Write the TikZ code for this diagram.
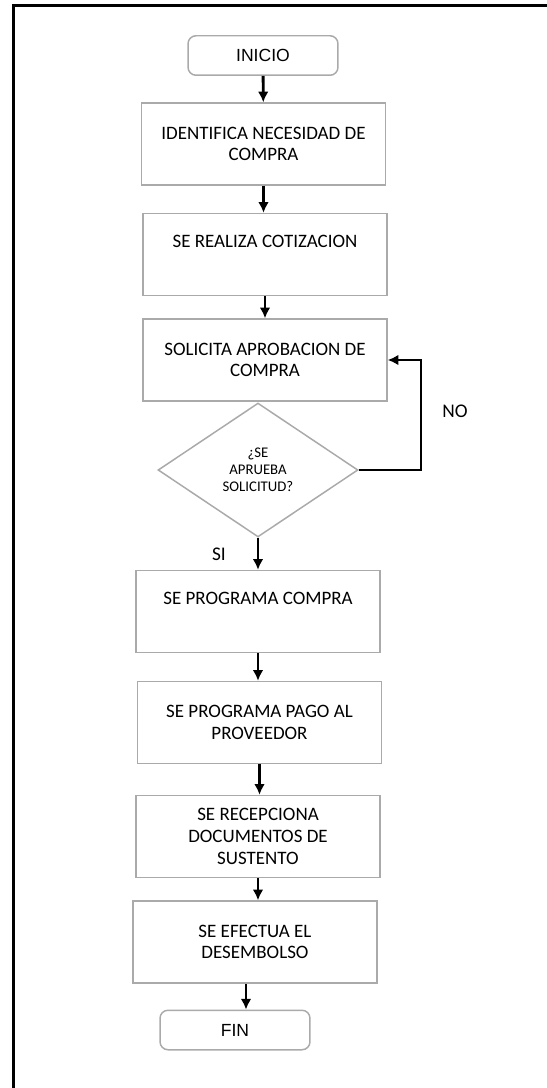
\documentclass[tikz,border=0pt]{standalone}
\usepackage{fontspec}
\setmainfont{Carlito}
\newfontfamily\arialfont{Liberation Sans}
\usetikzlibrary{shapes,arrows,arrows.meta}
\definecolor{boxgray}{RGB}{170,170,170}
\tikzstyle{line} = [draw, line width=1.6pt, -{Latex[length=6pt,width=6pt]}]
\tikzstyle{block} = [draw=boxgray, line width=0.85pt, rectangle, align=center, minimum width=4.88cm, minimum height=1.64cm, font=\fontsize{10.8}{12.4}\selectfont]
\tikzstyle{oneline} = [text height=7.5pt, text depth=15pt]
\tikzstyle{cloud} = [draw=boxgray, line width=0.85pt, rectangle, rounded corners=0.16cm, minimum width=3cm, minimum height=0.79cm, font=\arialfont\fontsize{10}{12}\selectfont]
\tikzstyle{decision} = [draw=boxgray, line width=0.85pt, diamond, aspect=1.5, align=center, inner sep=0pt, minimum width=4cm, minimum height=2.68cm, font=\fontsize{8.4}{9.7}\selectfont]
\tikzstyle{tag} = [font=\fontsize{11}{13}\selectfont]

\begin{document}
\begin{tikzpicture}[x=0.02cm, y=-0.02cm]
    \useasboundingbox (0,0) rectangle (547,1088);
    % page frame
    \draw[line width=1.6pt] (13.3,1100) -- (13.3,5.3) -- (560,5.3);

    \node[cloud] (origin) at (263,55.5) {INICIO};
    \node[block] (need) at (263.5,144) {IDENTIFICA NECESIDAD DE\\COMPRA};
    \node[block, oneline] (quote) at (265,254.5) {SE REALIZA COTIZACION};
    \node[block] (approval) at (265,360) {SOLICITA APROBACION DE\\COMPRA};
    \node[decision] (check) at (258,470) {¿SE\\APRUEBA\\SOLICITUD?};
    \node[block, oneline] (purchase) at (258,611.5) {SE PROGRAMA COMPRA};
    \node[block] (payment) at (259.5,722.5) {SE PROGRAMA PAGO AL\\PROVEEDOR};
    \node[block] (docs) at (258,836.5) {SE RECEPCIONA\\DOCUMENTOS DE\\SUSTENTO};
    \node[block] (payout) at (255,942) {SE EFECTUA EL\\DESEMBOLSO};
    \node[cloud] (stop) at (235,1030) {FIN};
    \node[tag] (no) at (455,411) {NO};
    \node[tag] (yes) at (219,554) {SI};
    \coordinate (loop) at (421,470);

    \path[line] (origin) -- (need);
    \path[line] (need.south) -- (need.south |- quote.north);
    \path[line] (quote) -- (approval);
    \path[line] (check.east) -- (loop) |- (approval.east);
    \path[line] (check) -- (purchase);
    \path[line] (purchase.south) -- (purchase.south |- payment.north);
    \path[line] (payment.south) -- (payment.south |- docs.north);
    \path[line] (docs.south) -- (docs.south |- payout.north);
    \path[line] ([xshift=-0.18cm]payout.south) -- ([xshift=-0.18cm]payout.south |- stop.north);
\end{tikzpicture}
\end{document}
